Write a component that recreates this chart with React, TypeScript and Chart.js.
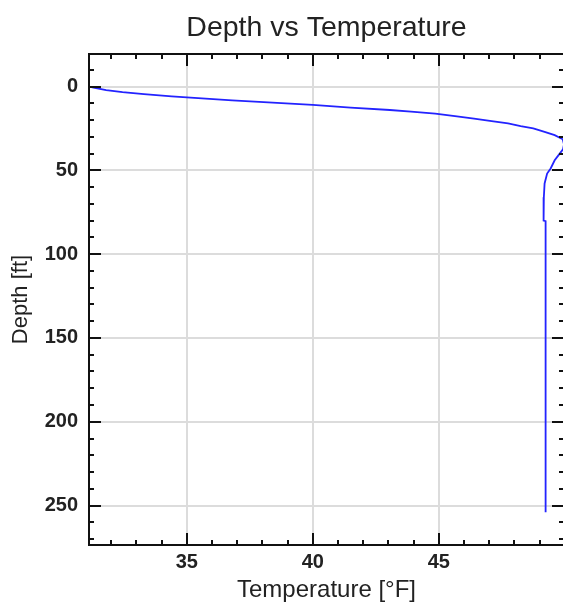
import React, { useEffect, useRef } from "react";
import { Chart, registerables } from "chart.js";

Chart.register(...registerables);

// Depth profile (temperature in °F at depth in ft)
const depthFt = [0, 0.7, 2.1, 3.3, 4.5, 5.9, 7.1, 8.3, 9.3, 11.0, 12.6, 14.0, 15.0, 16.2, 17.8, 19.2, 20.6, 22.0, 23.6, 25.0, 27.0, 29.0, 31.5, 34.5, 37.5, 40.0, 44.0, 48.9, 51.9, 57.8, 66.0, 80.0, 80.3, 254.0];
const temperatureF = [31.12, 31.3, 31.8, 32.45, 33.3, 34.4, 35.6, 36.8, 38.05, 40.0, 41.5, 43.06, 43.9, 44.86, 45.72, 46.4, 47.1, 47.75, 48.25, 48.75, 49.2, 49.6, 49.92, 49.97, 49.93, 49.8, 49.6, 49.44, 49.3, 49.2, 49.17, 49.16, 49.24, 49.24];

const xTickValues = [35, 40, 45];
const yTickValues = [0, 50, 100, 150, 200, 250];
const xMinorStep = 1;
const yMinorStep = 10;

const X_MIN = 31.12;
const X_MAX = 49.97;
const Y_MIN = -19.4;
const Y_MAX = 273.5;

const FONT = '"Liberation Sans", Arial, sans-serif';

const framePlugin = {
  id: "frameTicks",
  afterDatasetsDraw(chart: any) {
    const { ctx, chartArea, scales } = chart;
    const { left, right, top, bottom } = chartArea;
    const x = scales.x;
    const y = scales.y;
    ctx.save();
    ctx.strokeStyle = "#111";
    ctx.lineWidth = 2;
    const seg = (x1: number, y1: number, x2: number, y2: number) => {
      ctx.beginPath();
      ctx.moveTo(x1, y1);
      ctx.lineTo(x2, y2);
      ctx.stroke();
    };
    for (let v = Math.ceil(X_MIN / xMinorStep) * xMinorStep; v <= X_MAX; v += xMinorStep) {
      const px = Math.round(x.getPixelForValue(v));
      const len = xTickValues.includes(v) ? 12 : 5;
      seg(px, bottom, px, bottom - len);
      seg(px, top, px, top + len);
    }
    for (let v = Math.ceil(Y_MIN / yMinorStep) * yMinorStep; v <= Y_MAX; v += yMinorStep) {
      const py = Math.round(y.getPixelForValue(v));
      const len = yTickValues.includes(v) ? 12 : 5;
      seg(left, py, left + len, py);
      seg(right, py, right - len, py);
    }
    ctx.strokeRect(left, top, right - left, bottom - top);
    ctx.restore();
  },
};

export default function App() {
  const canvasRef = useRef<HTMLCanvasElement | null>(null);

  useEffect(() => {
    if (!canvasRef.current) return;
    const points = temperatureF.map((t, i) => ({ x: t, y: depthFt[i] }));
    const chart = new Chart(canvasRef.current, {
      type: "scatter",
      data: {
        datasets: [
          {
            data: points,
            showLine: true,
            borderColor: "rgb(35,35,255)",
            backgroundColor: "rgb(35,35,255)",
            borderWidth: 1.8,
            pointRadius: 0,
            tension: 0,
          },
        ],
      },
      options: {
        responsive: false,
        animation: false,
        devicePixelRatio: 1,
        layout: { padding: { left: 0, right: 6, top: 0, bottom: 0 } },
        plugins: {
          legend: { display: false },
          tooltip: { enabled: false },
          title: {
            display: true,
            fullSize: false,
            text: "Depth vs Temperature",
            color: "#222",
            font: { family: FONT, size: 28.5, weight: "normal" },
            padding: { top: 10.9, bottom: 8.9 },
          },
        },
        scales: {
          x: {
            type: "linear",
            position: "bottom",
            min: X_MIN,
            max: X_MAX,
            afterBuildTicks: (s: any) => {
              s.ticks = xTickValues.map((v) => ({ value: v }));
            },
            afterFit: (s: any) => {
              s.height = 60;
            },
            ticks: {
              color: "#222",
              font: { family: FONT, size: 20, weight: "bold" },
              padding: 5,
              maxRotation: 0,
              autoSkip: false,
            },
            grid: { color: "#dcdcdc", lineWidth: 2, drawTicks: false },
            border: { display: false },
            title: {
              display: true,
              text: "Temperature [°F]",
              color: "#222",
              font: { family: FONT, size: 24 },
              padding: { top: 0, bottom: 0 },
            },
          },
          y: {
            type: "linear",
            reverse: true,
            min: Y_MIN,
            max: Y_MAX,
            afterBuildTicks: (s: any) => {
              s.ticks = yTickValues.map((v) => ({ value: v }));
            },
            afterFit: (s: any) => {
              s.width = 89;
            },
            ticks: {
              color: "#222",
              font: { family: FONT, size: 20, weight: "bold" },
              padding: 11,
              autoSkip: false,
            },
            grid: { color: "#dcdcdc", lineWidth: 2, drawTicks: false },
            border: { display: false },
            title: {
              display: true,
              text: "Depth [ft]",
              color: "#222",
              font: { family: FONT, size: 22 },
              padding: { top: 8, bottom: 0 },
            },
          },
        },
      } as any,
      plugins: [framePlugin],
    });
    return () => chart.destroy();
  }, []);

  return (
    <div
      style={{
        position: "fixed",
        left: 0,
        top: 0,
        width: 563,
        height: 605,
        overflow: "hidden",
        background: "#fff",
      }}
    >
      <canvas
        ref={canvasRef}
        width={570}
        height={605}
        style={{ display: "block", width: 570, height: 605 }}
      />
    </div>
  );
}
